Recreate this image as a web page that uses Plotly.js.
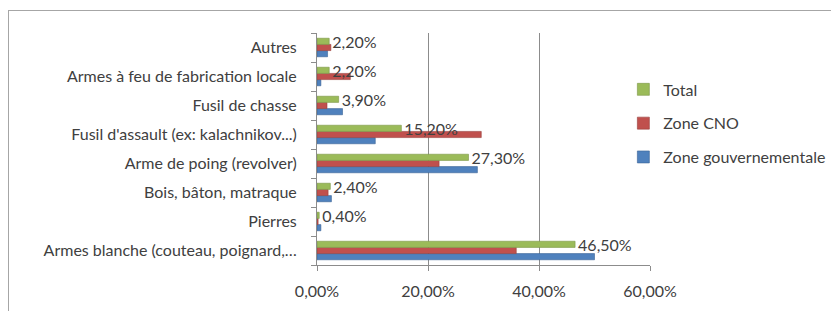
<!DOCTYPE html>
<html>
<head>
<meta charset="utf-8">
<script src="https://cdn.plot.ly/plotly-3.0.1.min.js"></script>
<style>
  html, body { margin: 0; padding: 0; background: #fff; overflow: hidden; }
  #chart { width: 831px; height: 311px; }
  #frame { position: absolute; left: 8px; top: 10px; width: 900px; height: 400px;
           border-left: 1.5px solid #a6a6a6; border-top: 1.5px solid #a6a6a6; pointer-events: none; }
</style>
</head>
<body>
<div id="chart"></div>
<div id="frame"></div>
<script>
// Categories, bottom to top
const categories = [
  "Armes blanche (couteau, poignard,…",
  "Pierres",
  "Bois, bâton, matraque",
  "Arme de poing (revolver)",
  "Fusil d'assault (ex: kalachnikov...)",
  "Fusil de chasse",
  "Armes à feu de fabrication locale",
  "Autres"
];
// Values in percent
const zoneGouvernementale = [50.0, 0.7, 2.6, 28.9, 10.5, 4.6, 0.7, 1.9];
const zoneCNO             = [35.9, 0.2, 2.0, 22.0, 29.6, 1.8, 6.0, 2.5];
const total               = [46.5, 0.4, 2.4, 27.3, 15.2, 3.9, 2.2, 2.2];
const xTicks = [0, 20, 40, 60];

const pct = a => a.map(v => v / 100);
const FONT = "Lato, 'Open Sans', sans-serif";
const TXT = "#404040";
const FS = 16;

const traces = [
  { name: "Zone gouvernementale", y: categories, x: pct(zoneGouvernementale), type: "bar", orientation: "h",
    marker: { color: "#4F81BD", line: { color: "#3a6396", width: 0.6 } }, legendgroup: "g", legendrank: 3, hoverinfo: "x+y" },
  { name: "Zone CNO", y: categories, x: pct(zoneCNO), type: "bar", orientation: "h",
    marker: { color: "#C0504D", line: { color: "#98403d", width: 0.6 } }, legendgroup: "c", legendrank: 2, hoverinfo: "x+y" },
  { name: "Total", y: categories, x: pct(total), type: "bar", orientation: "h",
    marker: { color: "#9BBB59", line: { color: "#7c9646", width: 0.6 } }, legendgroup: "t", legendrank: 1,
    texttemplate: "%{x:.2%}", textposition: "outside", constraintext: "none", cliponaxis: false,
    textfont: { family: FONT, size: FS, color: TXT }, hoverinfo: "x+y" }
];

const layout = {
  width: 831, height: 311,
  margin: { l: 317, r: 181, t: 33, b: 46, pad: 0, autoexpand: false },
  paper_bgcolor: "#fff", plot_bgcolor: "#fff",
  separators: ", ",
  barmode: "group", bargap: 0.36, bargroupgap: 0,
  font: { family: FONT, size: FS, color: TXT },
  xaxis: {
    range: [0, 0.6], tickvals: pct(xTicks), tickformat: ".2%",
    showgrid: true, gridcolor: "#8c8c8c", gridwidth: 1,
    showline: true, linecolor: "#8c8c8c", linewidth: 1,
    ticks: "outside", ticklen: 5, tickcolor: "#8c8c8c",
    ticklabelstandoff: 7, zeroline: false, fixedrange: true,
    tickfont: { family: FONT, size: FS, color: TXT }
  },
  yaxis: {
    type: "category", range: [-0.5, 7.5],
    showline: true, linecolor: "#8c8c8c", linewidth: 1,
    ticks: "outside", ticklen: 5, tickcolor: "#8c8c8c", tickson: "boundaries",
    ticklabelstandoff: 16, showgrid: false, fixedrange: true,
    tickfont: { family: FONT, size: FS, color: TXT }
  },
  showlegend: true,
  legend: {
    x: 0.92, xanchor: "left", y: 0.83, yanchor: "top",
    traceorder: "grouped", tracegroupgap: 10,
    font: { family: FONT, size: FS, color: TXT },
    bgcolor: "rgba(0,0,0,0)", itemwidth: 30
  }
};

Plotly.newPlot("chart", traces, layout, { displayModeBar: false, staticPlot: true });
</script>
</body>
</html>
